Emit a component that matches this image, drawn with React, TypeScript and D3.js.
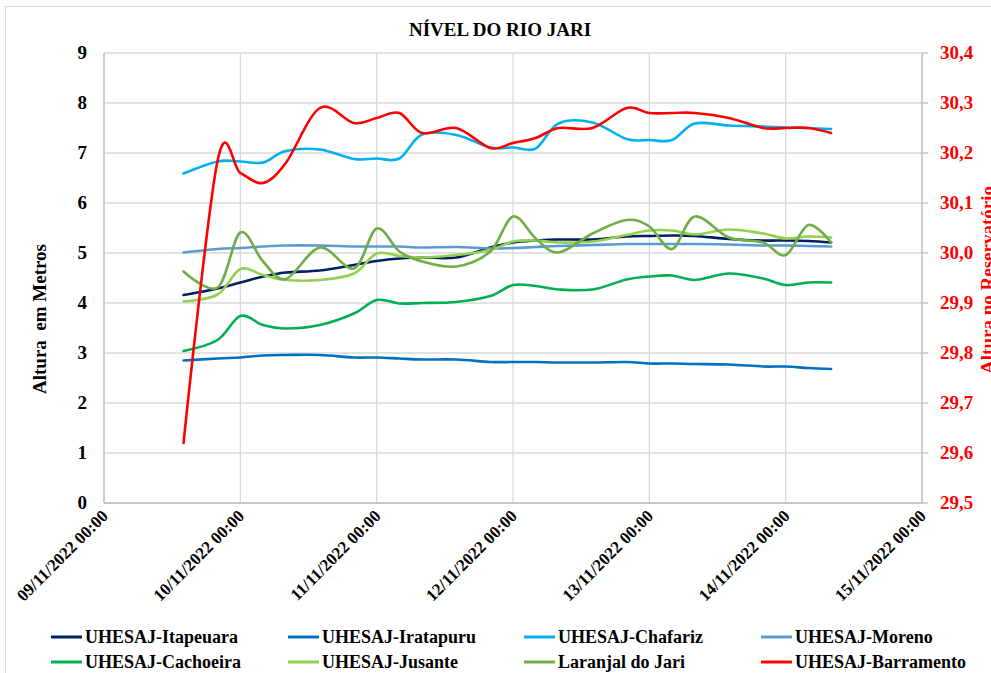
import React from 'react';
import * as d3 from 'd3';

const times = [
  '09/11/2022 14:00', '09/11/2022 20:00', '10/11/2022 00:00', '10/11/2022 04:00', '10/11/2022 08:00',
  '10/11/2022 14:00', '10/11/2022 20:00', '11/11/2022 00:00', '11/11/2022 04:00', '11/11/2022 08:00',
  '11/11/2022 14:00', '11/11/2022 20:00', '12/11/2022 00:00', '12/11/2022 04:00', '12/11/2022 08:00',
  '12/11/2022 14:00', '12/11/2022 20:00', '13/11/2022 00:00', '13/11/2022 04:00', '13/11/2022 08:00',
  '13/11/2022 14:00', '13/11/2022 20:00', '14/11/2022 00:00', '14/11/2022 04:00', '14/11/2022 08:00',
];

const itapeuara = [4.16, 4.29, 4.41, 4.53, 4.61, 4.65, 4.76, 4.84, 4.89, 4.91, 4.91, 5.11, 5.21, 5.25, 5.27, 5.27, 5.33, 5.34, 5.35, 5.34, 5.28, 5.25, 5.25, 5.24, 5.21];
const iratapuru = [2.85, 2.89, 2.91, 2.95, 2.96, 2.96, 2.91, 2.91, 2.89, 2.87, 2.87, 2.82, 2.82, 2.82, 2.81, 2.81, 2.82, 2.79, 2.79, 2.78, 2.77, 2.73, 2.73, 2.70, 2.68];
const chafariz = [6.59, 6.83, 6.83, 6.81, 7.04, 7.07, 6.88, 6.89, 6.89, 7.37, 7.36, 7.11, 7.11, 7.09, 7.59, 7.61, 7.28, 7.26, 7.26, 7.59, 7.55, 7.53, 7.51, 7.50, 7.48];
const moreno = [5.01, 5.08, 5.10, 5.13, 5.15, 5.15, 5.13, 5.13, 5.13, 5.11, 5.12, 5.09, 5.10, 5.12, 5.14, 5.16, 5.18, 5.18, 5.18, 5.18, 5.17, 5.15, 5.15, 5.14, 5.13];
const cachoeira = [3.04, 3.26, 3.74, 3.56, 3.49, 3.56, 3.79, 4.06, 3.99, 4.00, 4.02, 4.14, 4.36, 4.34, 4.27, 4.27, 4.47, 4.53, 4.55, 4.46, 4.59, 4.49, 4.36, 4.41, 4.41];
const jusante = [4.03, 4.17, 4.68, 4.56, 4.46, 4.46, 4.59, 4.99, 4.94, 4.91, 4.96, 5.06, 5.23, 5.25, 5.21, 5.23, 5.36, 5.45, 5.45, 5.37, 5.47, 5.39, 5.29, 5.33, 5.31];
const laranjal = [4.63, 4.31, 5.41, 4.83, 4.48, 5.11, 4.69, 5.49, 5.03, 4.83, 4.73, 5.03, 5.73, 5.29, 5.01, 5.39, 5.66, 5.53, 5.08, 5.73, 5.31, 5.21, 4.96, 5.56, 5.21];
const barramento = [29.62, 30.185, 30.16, 30.14, 30.18, 30.29, 30.26, 30.27, 30.28, 30.24, 30.25, 30.21, 30.22, 30.23, 30.25, 30.25, 30.29, 30.28, 30.28, 30.28, 30.27, 30.25, 30.25, 30.25, 30.24];

const xTickLabels = ['09/11/2022 00:00', '10/11/2022 00:00', '11/11/2022 00:00', '12/11/2022 00:00', '13/11/2022 00:00', '14/11/2022 00:00', '15/11/2022 00:00'];
const leftTicks = [0, 1, 2, 3, 4, 5, 6, 7, 8, 9];
const rightTicks = [29.5, 29.6, 29.7, 29.8, 29.9, 30.0, 30.1, 30.2, 30.3, 30.4];

const seriesNames = ['UHESAJ-Itapeuara', 'UHESAJ-Iratapuru', 'UHESAJ-Chafariz', 'UHESAJ-Moreno', 'UHESAJ-Cachoeira', 'UHESAJ-Jusante', 'Laranjal do Jari', 'UHESAJ-Barramento'];
const seriesValues = [itapeuara, iratapuru, chafariz, moreno, cachoeira, jusante, laranjal, barramento];
const seriesColors = ['#002060', '#0070C0', '#00B0F0', '#5B9BD5', '#00B050', '#92D050', '#70AD47', '#FF0000'];
const seriesRight = [false, false, false, false, false, false, false, true];

const W = 991;
const H = 673;
const M = { left: 104, right: 922, top: 53, bottom: 503 };
const FONT = '"Liberation Serif", "Times New Roman", serif';

export default function App() {
  const parse = d3.timeParse('%d/%m/%Y %H:%M');
  const dates = times.map((t) => parse(t) as Date);
  const tickDates = xTickLabels.map((t) => parse(t) as Date);

  const x = d3.scaleTime().domain([tickDates[0], tickDates[tickDates.length - 1]]).range([M.left, M.right]);
  const yL = d3.scaleLinear().domain([0, 9]).range([M.bottom, M.top]);
  const yR = d3.scaleLinear().domain([29.5, 30.4]).range([M.bottom, M.top]);

  const fmtR = (v: number) => v.toFixed(1).replace('.', ',');

  const lines = seriesValues.map((vals, i) => {
    const ys = seriesRight[i] ? yR : yL;
    const gen = d3
      .line<number>()
      .x((_, j) => x(dates[j]))
      .y((v) => ys(v))
      .curve(d3.curveCatmullRom.alpha(0));
    return gen(vals) as string;
  });

  const legendCols = [51, 288, 524, 761];
  const legendRows = [637, 662];

  return (
    <svg
      width={W}
      height={H}
      style={{ position: 'absolute', left: 0, top: 0, background: '#fff' }}
      fontFamily={FONT}
    >
      <rect x={0} y={0} width={W} height={H} fill="#fff" />
      <rect x={5.5} y={6.5} width={1000} height={700} fill="none" stroke="#D9D9D9" strokeWidth={1} />

      {/* gridlines */}
      {leftTicks.map((t) => (
        <line key={'h' + t} x1={M.left} x2={M.right} y1={yL(t)} y2={yL(t)} stroke="#D9D9D9" strokeWidth={1.3} />
      ))}
      {tickDates.map((d, i) => (
        <line key={'v' + i} x1={x(d)} x2={x(d)} y1={M.top} y2={M.bottom} stroke="#D9D9D9" strokeWidth={1.3} />
      ))}
      <line x1={M.left} x2={M.left} y1={M.top} y2={M.bottom} stroke="#BFBFBF" strokeWidth={1.3} />
      <line x1={M.right} x2={M.right} y1={M.top} y2={M.bottom} stroke="#BFBFBF" strokeWidth={1.3} />
      <line x1={M.left} x2={M.right} y1={M.bottom} y2={M.bottom} stroke="#BFBFBF" strokeWidth={1.3} />
      {rightTicks.map((t) => (
        <line key={'rt' + t} x1={M.right} x2={M.right + 6} y1={yR(t)} y2={yR(t)} stroke="#BFBFBF" strokeWidth={1.3} />
      ))}

      {/* series */}
      {lines.map((p, i) => (
        <path key={'s' + i} d={p} fill="none" stroke={seriesColors[i]} strokeWidth={2.6} strokeLinejoin="round" strokeLinecap="round" />
      ))}

      {/* title */}
      <text x={500} y={36} textAnchor="middle" fontSize={19} fontWeight="bold" fill="#000">
        NÍVEL DO RIO JARI
      </text>

      {/* left ticks */}
      {leftTicks.map((t) => (
        <text key={'lt' + t} x={87} y={yL(t) + 6} textAnchor="end" fontSize={19} fontWeight="bold" fill="#000">
          {t}
        </text>
      ))}
      {/* right ticks */}
      {rightTicks.map((t) => (
        <text key={'rl' + t} x={940} y={yR(t) + 6} textAnchor="start" fontSize={19} fontWeight="bold" fill="#FF0000">
          {fmtR(t)}
        </text>
      ))}

      {/* x ticks */}
      {tickDates.map((d, i) => (
        <text
          key={'xt' + i}
          transform={`translate(${x(d) + 5},${517}) rotate(-45)`}
          textAnchor="end"
          fontSize={17}
          fontWeight="bold"
          fill="#000"
        >
          {xTickLabels[i]}
        </text>
      ))}

      {/* axis titles */}
      <text
        transform={`translate(46,319) rotate(-90)`}
        textAnchor="middle"
        fontSize={19}
        fontWeight="bold"
        fill="#000"
        style={{ whiteSpace: 'pre' }}
      >
        {'Altura  em Metros'}
      </text>
      <text
        transform={`translate(994,280) rotate(-90)`}
        textAnchor="middle"
        fontSize={19}
        fontWeight="bold"
        fill="#FF0000"
      >
        Altura no Reservatório
      </text>

      {/* legend */}
      {seriesNames.map((n, i) => {
        const cx = legendCols[i % 4];
        const cy = legendRows[Math.floor(i / 4)];
        return (
          <g key={'lg' + i}>
            <line x1={cx} x2={cx + 31} y1={cy} y2={cy} stroke={seriesColors[i]} strokeWidth={3} />
            <text x={cx + 34} y={cy + 6} fontSize={18} fontWeight="bold" fill="#000">
              {n}
            </text>
          </g>
        );
      })}
    </svg>
  );
}
